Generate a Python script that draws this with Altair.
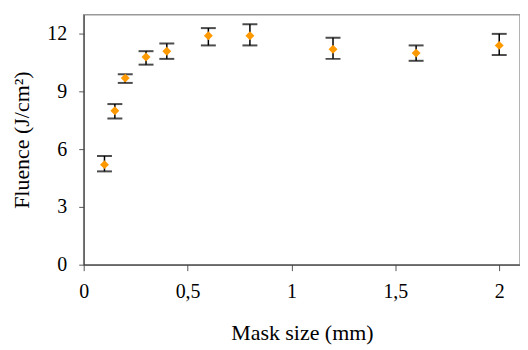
import altair as alt
import pandas as pd

mask_size = [0.1, 0.15, 0.2, 0.3, 0.4, 0.6, 0.8, 1.2, 1.6, 2.0]
fluence = [5.2, 8.0, 9.7, 10.8, 11.1, 11.9, 11.9, 11.2, 11.0, 11.4]
err_low = [4.85, 7.6, 9.45, 10.4, 10.7, 11.4, 11.4, 10.7, 10.6, 10.9]
err_high = [5.65, 8.35, 9.9, 11.1, 11.5, 12.3, 12.5, 11.8, 11.4, 12.0]

df = pd.DataFrame({"x": mask_size, "y": fluence, "lo": err_low, "hi": err_high})

FONT = "Liberation Serif"

xscale = alt.Scale(domain=[0, 2.1], nice=False, zero=True)
yscale = alt.Scale(domain=[0, 13], nice=False)

xaxis = alt.Axis(
    title="Mask size (mm)", values=[0, 0.5, 1, 1.5, 2],
    labelExpr="replace(toString(datum.value), '.', ',')",
    grid=False, tickSize=6, labelPadding=11, titlePadding=21,
    domainColor="#333333", tickColor="#555555", labelColor="black",
    labelFontSize=20, titleFontSize=22, titleFontWeight="normal",
    labelFont=FONT, titleFont=FONT, labelFlush=False, titleColor="black",
)
yaxis = alt.Axis(
    title="Fluence (J/cm²)", values=[0, 3, 6, 9, 12],
    grid=False, tickSize=5, labelPadding=12, titlePadding=13,
    domainColor="#333333", tickColor="#555555", labelColor="black",
    labelFontSize=20, titleFontSize=22, titleFontWeight="normal",
    labelFont=FONT, titleFont=FONT, titleColor="black",
)

base = alt.Chart(df)

rules = base.mark_rule(color="black", strokeWidth=1.5).encode(
    x=alt.X("x:Q", scale=xscale, axis=xaxis),
    y=alt.Y("lo:Q", scale=yscale, axis=yaxis),
    y2="hi:Q",
)
cap_lo = base.mark_tick(color="black", orient="horizontal", size=15, thickness=2).encode(
    x=alt.X("x:Q", scale=xscale), y=alt.Y("lo:Q", scale=yscale)
)
cap_hi = base.mark_tick(color="black", orient="horizontal", size=15, thickness=2).encode(
    x=alt.X("x:Q", scale=xscale), y=alt.Y("hi:Q", scale=yscale)
)
points = base.mark_point(shape="diamond", filled=True, color="#FF9900", size=80, opacity=1).encode(
    x=alt.X("x:Q", scale=xscale), y=alt.Y("y:Q", scale=yscale)
)

chart = (rules + cap_lo + cap_hi + points).properties(
    width=438, height=251,
    autosize=alt.AutoSizeParams(type="none"),
    padding={"left": 76, "top": 6, "right": 0, "bottom": 84},
).configure_view(stroke="#999999", strokeWidth=1.5)

chart.save("out.html", embed_options={"renderer": "svg", "actions": False})
